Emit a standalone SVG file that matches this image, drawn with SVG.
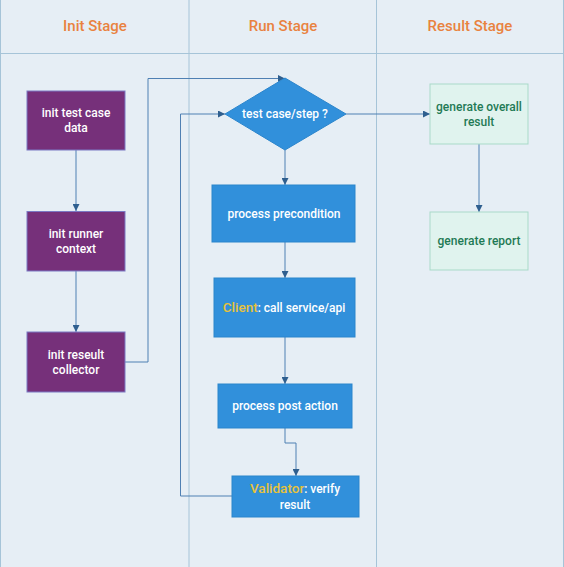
<svg xmlns="http://www.w3.org/2000/svg" width="564" height="567" viewBox="0 0 564 567">
<defs>
<style>
.lane{stroke:#a6c4d8;stroke-width:1;fill:none}
.hdr{font-family:Roboto,"Liberation Sans",Arial,sans-serif;font-size:15px;font-weight:500;fill:#e9823f;text-anchor:middle}
.t{font-family:Roboto,"Liberation Sans",Arial,sans-serif;font-size:12px;font-weight:500;text-anchor:middle}
.w{fill:#ffffff}
.g{fill:#1f7a55}
.y{fill:#e8c23a}
.purple{fill:#76307a;stroke:#7a78c4;stroke-width:1}
.blue{fill:#3190db;stroke:#2b85cc;stroke-width:1}
.green{fill:#e0f3ee;stroke:#a9dac9;stroke-width:1}
.edge{stroke:#4f80b3;stroke-width:1;fill:none;marker-end:url(#arr)}
</style>
<marker id="arr" viewBox="0 0 10 10" refX="10" refY="5" markerWidth="7" markerHeight="7" markerUnits="userSpaceOnUse" orient="auto">
<path d="M0,0 L10,5 L0,10 z" fill="#2f5f8f"/>
</marker>
</defs>
<rect x="0" y="0" width="564" height="567" fill="#e6eef5"/>
<g id="lanes">
<line class="lane" x1="0.5" y1="0" x2="0.5" y2="567"/>
<line class="lane" x1="189" y1="0" x2="189" y2="567"/>
<line class="lane" x1="376.5" y1="0" x2="376.5" y2="567"/>
<line class="lane" x1="563.5" y1="0" x2="563.5" y2="567"/>
<line class="lane" x1="0" y1="53.5" x2="564" y2="53.5"/>
<text class="hdr" x="95" y="31">Init Stage</text>
<text class="hdr" x="283" y="31">Run Stage</text>
<text class="hdr" x="470" y="31">Result Stage</text>
</g>
<g id="connectors">
<path class="edge" d="M76,150 V211"/>
<path class="edge" d="M76,271 V332"/>
<path class="edge" d="M125,362 H148 V78.5 H285"/>
<path class="edge" d="M346,114 H430"/>
<path class="edge" d="M479,144 V212"/>
<path class="edge" d="M285,150 V185"/>
<path class="edge" d="M285,242 V278"/>
<path class="edge" d="M285,337 V384"/>
<path class="edge" d="M285,428 V443 H296 V476"/>
<path class="edge" d="M232,496 H180.5 V114 H225"/>
</g>
<g id="init-test-case-data">
<rect class="purple" x="27" y="91" width="98" height="59"/>
<text class="t w" x="76" y="117">init test case</text>
<text class="t w" x="76" y="132">data</text>
</g>
<g id="init-runner-context">
<rect class="purple" x="27" y="211.5" width="98" height="59.5"/>
<text class="t w" x="76" y="238">init runner</text>
<text class="t w" x="76" y="253">context</text>
</g>
<g id="init-result-collector">
<rect class="purple" x="27" y="332" width="98" height="60"/>
<text class="t w" x="76" y="359">init reseult</text>
<text class="t w" x="76" y="374">collector</text>
</g>
<g id="test-case-step">
<polygon class="blue" points="285,78 346,114 285,150 225,114"/>
<text class="t w" x="285" y="118">test case/step ?</text>
</g>
<g id="process-precondition">
<rect class="blue" x="212" y="185" width="143" height="57"/>
<text class="t w" x="284" y="218">process precondition</text>
</g>
<g id="client-call">
<rect class="blue" x="214" y="278" width="141" height="59"/>
<text class="t" x="284" y="312"><tspan class="y" font-size="13.5px">Client</tspan><tspan class="w">: call service/api</tspan></text>
</g>
<g id="process-post-action">
<rect class="blue" x="218" y="384" width="134" height="44"/>
<text class="t w" x="285" y="410">process post action</text>
</g>
<g id="validator">
<rect class="blue" x="232" y="476" width="127" height="41"/>
<text class="t" x="295" y="493"><tspan class="y" font-size="13.5px">Validator</tspan><tspan class="w">: verify</tspan></text>
<text class="t w" x="295" y="509">result</text>
</g>
<g id="generate-overall-result">
<rect class="green" x="430" y="84" width="98" height="60"/>
<text class="t g" x="479" y="111">generate overall</text>
<text class="t g" x="479" y="126">result</text>
</g>
<g id="generate-report">
<rect class="green" x="430" y="212" width="98" height="58"/>
<text class="t g" x="479" y="245">generate report</text>
</g>
</svg>
